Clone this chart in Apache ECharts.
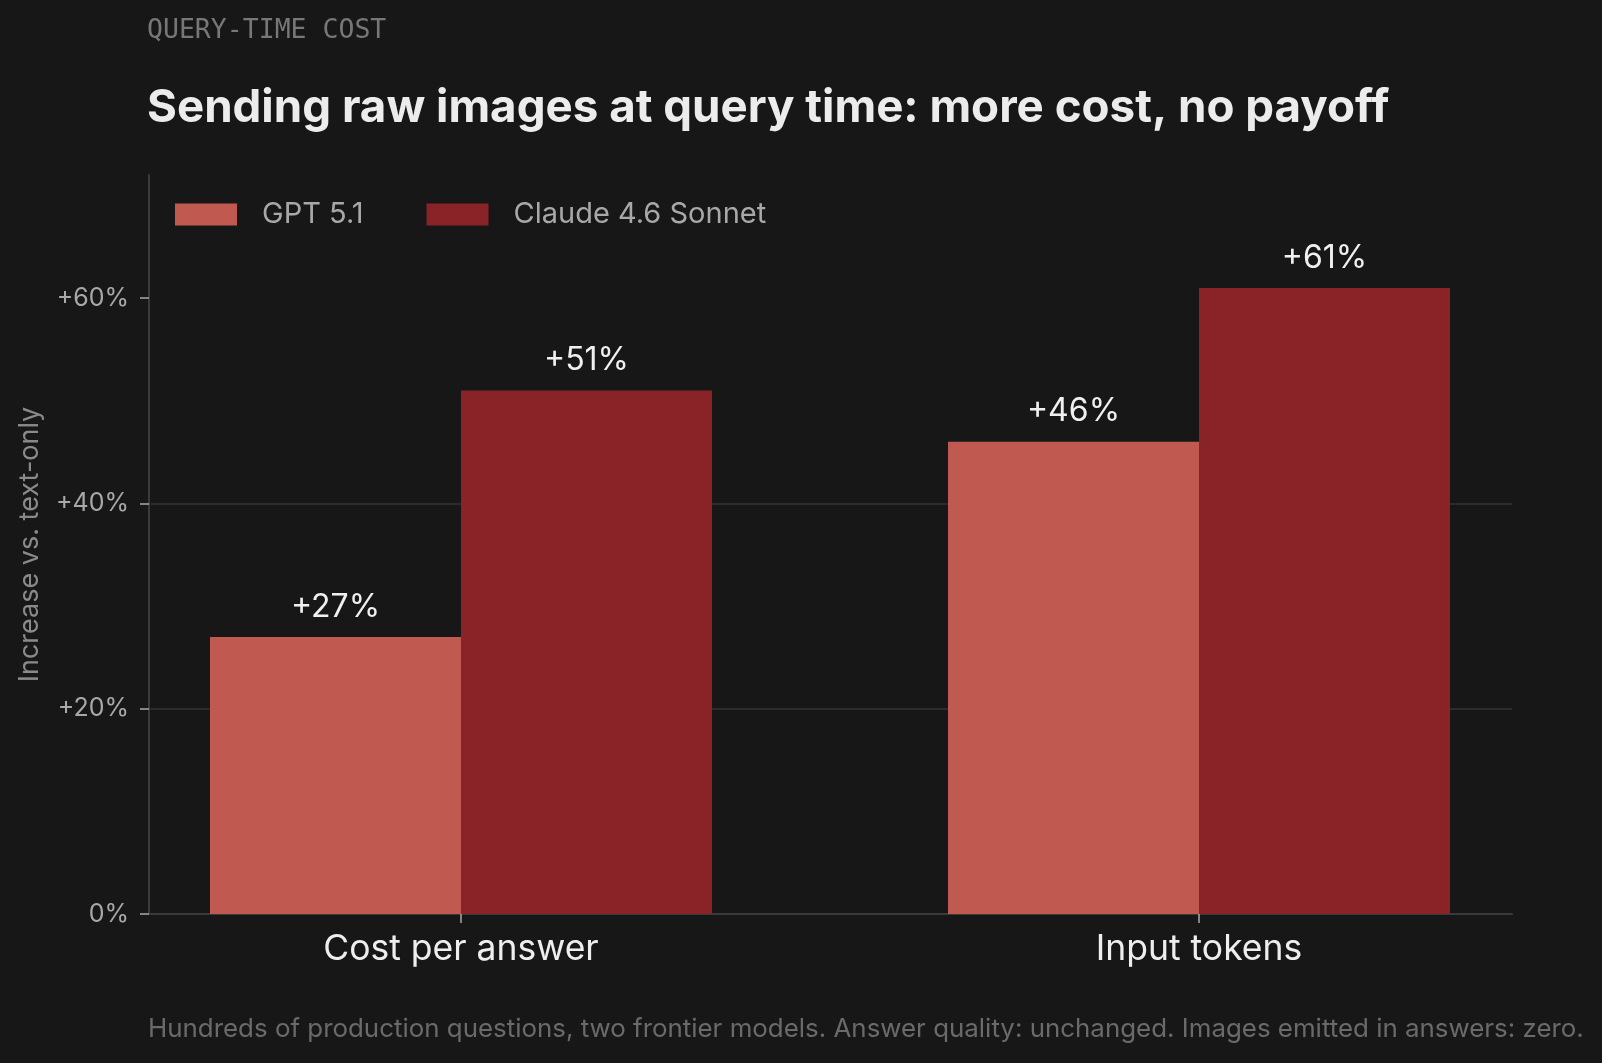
<!DOCTYPE html>
<html>
<head>
<meta charset="utf-8">
<title>Query-time cost</title>
<script src="https://cdn.jsdelivr.net/npm/echarts@6/dist/echarts.min.js"></script>
<style>
  html, body { margin: 0; padding: 0; background: #171717; }
  #chart { width: 1602px; height: 1063px; }
</style>
</head>
<body>
<div id="chart"></div>
<script>
var categories = ['Cost per answer', 'Input tokens'];
var seriesNames = ['GPT 5.1', 'Claude 4.6 Sonnet'];
var gptValues = [27, 46];
var claudeValues = [51, 61];
var yTicks = [0, 20, 40, 60];

var FONT = 'Inter, "Noto Sans", sans-serif';

var chart = echarts.init(document.getElementById('chart'), null, { renderer: 'canvas' });

function pctLabel(v) {
  return v === 0 ? '0%' : '+' + v + '%';
}

var option = {
  backgroundColor: '#171717',
  animation: false,
  title: [
    {
      text: 'QUERY-TIME COST',
      left: 147,
      top: 18,
      padding: 0,
      textStyle: { fontFamily: '"DejaVu Sans Mono", monospace', fontSize: 26.5, fontWeight: 'normal', color: '#777777' }
    },
    {
      text: 'Sending raw images at query time: more cost, no payoff',
      left: 147,
      top: 85,
      padding: 0,
      textStyle: { fontFamily: FONT, fontSize: 45.7, fontWeight: 700, color: '#ececec' }
    },
    {
      text: 'Hundreds of production questions, two frontier models. Answer quality: unchanged. Images emitted in answers: zero.',
      left: 148,
      top: 1016,
      padding: 0,
      textStyle: { fontFamily: FONT, fontSize: 25.9, fontWeight: 'normal', color: '#6a6a6a' }
    }
  ],
  legend: {
    left: 175,
    top: 200,
    padding: 0,
    itemWidth: 62,
    itemHeight: 22,
    itemGap: 63,
    icon: 'rect',
    data: seriesNames,
    textStyle: { fontFamily: FONT, fontSize: 29, color: '#a8a8a8', padding: [0, 0, 0, 20] }
  },
  grid: [
    // grid for the bars (category bands centred on the ticks)
    { left: 92, right: 34, top: 175, bottom: 149 },
    // frame grid: axis lines, y ticks, gridlines
    { left: 149, right: 90, top: 175, bottom: 149 }
  ],
  xAxis: [
    {
      type: 'category',
      gridIndex: 0,
      data: categories,
      axisLine: { show: false },
      axisTick: { show: true, alignWithLabel: true, length: 9, lineStyle: { color: '#aaaaaa', width: 1.5 } },
      axisLabel: { fontFamily: FONT, fontSize: 35.5, color: '#eeeeee', margin: 17 },
      splitLine: { show: false }
    },
    {
      type: 'value',
      gridIndex: 1,
      min: 0,
      max: 1,
      axisLine: { show: true, lineStyle: { color: '#3a3a3a', width: 2 } },
      axisTick: { show: false },
      axisLabel: { show: false },
      splitLine: { show: false }
    }
  ],
  yAxis: [
    {
      type: 'value',
      gridIndex: 0,
      min: 0,
      max: 72,
      show: false
    },
    {
      type: 'value',
      gridIndex: 1,
      min: 0,
      max: 72,
      interval: 20,
      name: 'Increase vs. text-only',
      nameLocation: 'middle',
      nameRotate: 90,
      nameGap: 106,
      nameTextStyle: { fontFamily: FONT, fontSize: 27, color: '#8a8a8a' },
      axisLine: { show: true, lineStyle: { color: '#3a3a3a', width: 2 } },
      axisTick: { show: true, length: 9, customValues: yTicks, lineStyle: { color: '#aaaaaa', width: 1.5 } },
      axisLabel: { fontFamily: FONT, fontSize: 25, color: '#a8a8a8', margin: 20, customValues: yTicks, formatter: pctLabel },
      splitLine: { show: true, showMinLine: false, showMaxLine: false, lineStyle: { color: '#333333', width: 1.5 } }
    }
  ],
  series: [
    {
      name: seriesNames[0],
      type: 'bar',
      xAxisIndex: 0,
      yAxisIndex: 0,
      data: gptValues,
      barWidth: 251,
      barGap: '0%',
      itemStyle: { color: '#c05a50' },
      label: { show: true, position: 'top', distance: 14, formatter: function (p) { return pctLabel(p.value); },
        fontFamily: FONT, fontSize: 32, color: '#f0f0f0' }
    },
    {
      name: seriesNames[1],
      type: 'bar',
      xAxisIndex: 0,
      yAxisIndex: 0,
      data: claudeValues,
      barWidth: 251,
      barGap: '0%',
      itemStyle: { color: '#8a2328' },
      label: { show: true, position: 'top', distance: 14, formatter: function (p) { return pctLabel(p.value); },
        fontFamily: FONT, fontSize: 32, color: '#f0f0f0' }
    }
  ]
};

chart.setOption(option);
</script>
</body>
</html>
